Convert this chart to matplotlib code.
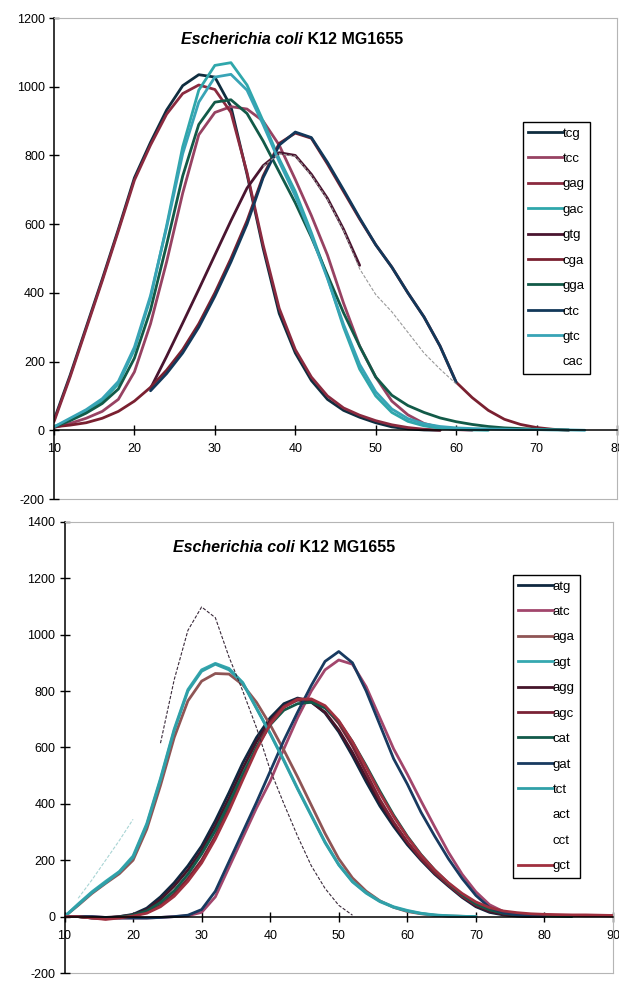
import numpy as np
import matplotlib
matplotlib.use("Agg")
import matplotlib.pyplot as plt
from matplotlib.lines import Line2D

plt.rcParams['font.family'] = ['Liberation Sans', 'DejaVu Sans']
plt.rcParams['axes.unicode_minus'] = False

# ---------------- top chart data (x step 2, each series has a start x) -------------
top_names = ['tcg', 'tcc', 'gag', 'gac', 'gtg', 'cga', 'gga', 'ctc', 'gtc', 'cac']
top_colors = ['#0f2d3f', '#974262', '#8b2a3f', '#2fa7ab', '#4a1530', '#7a2030',
              '#125a48', '#12385a', '#38a4b6', '#9a9a9a']
top_start = [10, 10, 10, 10, 22, 10, 10, 22, 10, 36]
tcg = [30, 160, 300, 440, 585, 735, 838, 932, 1003, 1035, 1028, 942, 745, 530, 340,
       225, 145, 90, 58, 38, 22, 10, 4, 1, 0]
tcc = [8, 20, 35, 55, 90, 170, 310, 490, 690, 860, 925, 942, 935, 900, 830, 730, 625,
       510, 370, 245, 155, 85, 45, 20, 8, 2, 0]
gag = [25, 155, 295, 435, 580, 728, 830, 920, 980, 1005, 992, 925, 750, 540, 355, 235,
       155, 100, 65, 44, 28, 16, 8, 3, 0]
gac = [10, 30, 55, 85, 135, 235, 385, 595, 825, 990, 1062, 1070, 1005, 900, 790, 695,
       575, 445, 300, 178, 100, 52, 26, 13, 6, 3, 1, 0]
gtg = [122, 215, 312, 410, 510, 610, 705, 770, 808, 800, 745, 675, 585, 480]
cga = [10, 15, 22, 35, 55, 85, 125, 175, 235, 310, 400, 500, 610, 740, 835, 865, 850,
       775, 695, 615, 540, 475, 400, 330, 245, 140, 95, 58, 32, 17, 8, 3, 0]
gga = [10, 28, 50, 78, 120, 210, 350, 540, 740, 890, 955, 962, 922, 842, 752, 662, 562,
       452, 342, 245, 155, 102, 72, 52, 36, 25, 17, 11, 7, 5, 3, 2, 1]
ctc = [115, 165, 225, 300, 390, 490, 600, 735, 830, 868, 852, 780, 700, 618, 540, 475,
       400, 330, 245, 140]
gtc = [10, 35, 60, 92, 142, 242, 392, 590, 805, 955, 1028, 1036, 990, 890, 782, 682,
       567, 442, 308, 192, 112, 62, 34, 19, 11, 7, 5, 4, 3, 2, 2, 1, 1, 0]
cac = [768, 805, 798, 742, 672, 582, 470, 395, 345, 285, 225, 178, 135]
top_values = [tcg, tcc, gag, gac, gtg, cga, gga, ctc, gtc, cac]

# ---------------- bottom chart data -------------
bot_names = ['atg', 'atc', 'aga', 'agt', 'agg', 'agc', 'cat', 'gat', 'tct', 'act', 'cct', 'gct']
bot_colors = ['#0f2840', '#a2466c', '#8f5555', '#35a8b0', '#45152a', '#7a2235',
              '#125a4a', '#183a60', '#30a0a8', '#a8d4d4', '#3a2a3a', '#a0303f']
bot_start = [10, 10, 10, 10, 10, 10, 10, 10, 10, 12, 24, 10]
atg = [0, 0, -5, -5, 0, 8, 30, 70, 120, 180, 250, 340, 440, 545, 635, 705, 755, 775,
       762, 722, 655, 570, 478, 392, 320, 255, 200, 150, 108, 68, 35, 15, 6, 2, 0]
atc = [0, 0, 0, -3, -5, -5, -5, -3, 0, 3, 15, 70, 175, 280, 385, 480, 595, 705, 800,
       875, 910, 895, 815, 705, 595, 505, 410, 318, 228, 150, 88, 42, 18, 8, 3, 0]
aga = [0, 40, 82, 118, 152, 200, 310, 465, 635, 765, 835, 862, 860, 822, 760, 680,
       590, 495, 395, 295, 205, 137, 90, 56, 33, 18, 10, 5, 2, 1, 0]
agt = [0, 45, 88, 125, 160, 215, 330, 490, 665, 805, 875, 898, 880, 830, 740, 650,
       555, 455, 360, 265, 185, 125, 85, 55, 35, 22, 12, 6, 3, 1, 0]
agg = [0, 0, -3, -3, 0, 6, 24, 60, 108, 165, 235, 322, 420, 525, 620, 695, 745, 768,
       760, 725, 662, 582, 492, 405, 330, 262, 205, 155, 112, 72, 38, 18, 8, 3, 1, 0]
agc = [0, 0, -5, -8, -3, 3, 15, 40, 80, 135, 200, 285, 385, 495, 600, 690, 745, 772,
       770, 742, 685, 605, 510, 415, 335, 265, 205, 155, 112, 72, 42, 24, 14, 9, 7, 5,
       4, 4, 3, 3, 2]
cat = [0, 0, -3, -5, -2, 5, 20, 50, 92, 150, 222, 305, 402, 505, 600, 680, 732, 755,
       760, 740, 692, 620, 535, 445, 360, 285, 220, 165, 118, 78, 45, 24, 12, 6, 3, 2,
       1, 0]
gat = [0, 0, 0, -3, -5, -5, -5, -3, 0, 5, 25, 90, 195, 300, 405, 515, 625, 725, 820,
       905, 940, 900, 800, 680, 560, 470, 370, 285, 205, 135, 75, 32, 14, 6, 2, 0]
tct = [0, 42, 85, 120, 158, 210, 325, 485, 660, 800, 870, 895, 875, 828, 738, 648,
       552, 452, 357, 262, 183, 123, 83, 53, 33, 20, 11, 5, 2, 1, 0]
act = [65, 130, 200, 270, 345]
cct = [615, 840, 1015, 1098, 1060, 920, 800, 670, 520, 400, 285, 180, 100, 40, 5]
gct = [0, 0, -5, -10, -5, 2, 12, 35, 72, 125, 190, 275, 375, 485, 592, 682, 742, 770,
       772, 748, 695, 620, 530, 438, 355, 282, 218, 165, 120, 82, 52, 32, 20, 14, 10,
       8, 7, 6, 6, 5, 4]
bot_values = [atg, atc, aga, agt, agg, agc, cat, gat, tct, act, cct, gct]

title_italic = 'Escherichia coli'
title_rest = ' K12 MG1655'

W, H = 619, 981
fig = plt.figure(figsize=(W / 100, H / 100), dpi=100)
ax1 = fig.add_axes([54 / W, 1 - 499 / H, (617 - 54) / W, (499 - 18) / H])
ax2 = fig.add_axes([64.5 / W, 1 - 973 / H, (613 - 64.5) / W, (973 - 521.8) / H])


def style(ax, xmax, ymax):
    ax.set_xlim(10, xmax)
    ax.set_ylim(-200, ymax)
    ax.spines['bottom'].set_position(('data', 0))
    ax.spines['bottom'].set_linewidth(1.1)
    ax.spines['left'].set_linewidth(1.1)
    for s in ['top', 'right']:
        ax.spines[s].set_color('#b5b5b5')
        ax.spines[s].set_linewidth(0.8)
    ax.axhline(-200, color='#b5b5b5', lw=0.8, clip_on=False, zorder=0)
    ax.set_xticks(np.arange(10, xmax + 1, 10))
    ax.set_yticks(np.arange(-200, ymax + 1, 200))
    ax.tick_params(axis='x', direction='inout', length=7, width=1, labelsize=9, pad=6)
    ax.tick_params(axis='y', direction='inout', length=7, width=1, labelsize=9, pad=3)
    ax.set_facecolor('white')


def draw(ax, names, colors, starts, values, thin):
    handles = []
    for n, c, s, v in zip(names, colors, starts, values):
        x = np.arange(s, s + 2 * len(v), 2)
        if n in thin:
            ax.plot(x, v, color=c, lw=0.8, ls=(0, (3, 1.5)), zorder=3)
            handles.append(Line2D([], [], color='none', lw=2))
        else:
            ax.plot(x, v, color=c, lw=2.0, solid_capstyle='round',
                    solid_joinstyle='round', zorder=2)
            handles.append(Line2D([], [], color=c, lw=2.0))
    return handles


style(ax1, 80, 1200)
style(ax2, 90, 1400)
h1 = draw(ax1, top_names, top_colors, top_start, top_values, ['cac'])
h2 = draw(ax2, bot_names, bot_colors, bot_start, bot_values, ['act', 'cct'])

leg_kw = dict(loc='upper left', bbox_transform=fig.transFigure, frameon=True,
              fancybox=False, edgecolor='black', framealpha=1, handlelength=2.6,
              handletextpad=0.0, labelspacing=1.0, borderpad=0.4, borderaxespad=0,
              fontsize=9.5)
l1 = ax1.legend(h1, top_names, bbox_to_anchor=(523 / W, 1 - 122 / H), **leg_kw)
l2 = ax2.legend(h2, bot_names, bbox_to_anchor=(513 / W, 1 - 575 / H), **leg_kw)
for l in (l1, l2):
    l.get_frame().set_linewidth(1.0)


def title(cx, cy):
    fig.text(cx / W, 1 - cy / H, title_italic, style='italic', weight='bold',
             fontsize=11.5, ha='right', va='center')
    fig.text(cx / W, 1 - cy / H, title_rest, weight='bold', fontsize=11.5,
             ha='left', va='center')


title(303, 40)
title(295, 547)

fig.savefig('out.png', dpi=100)
